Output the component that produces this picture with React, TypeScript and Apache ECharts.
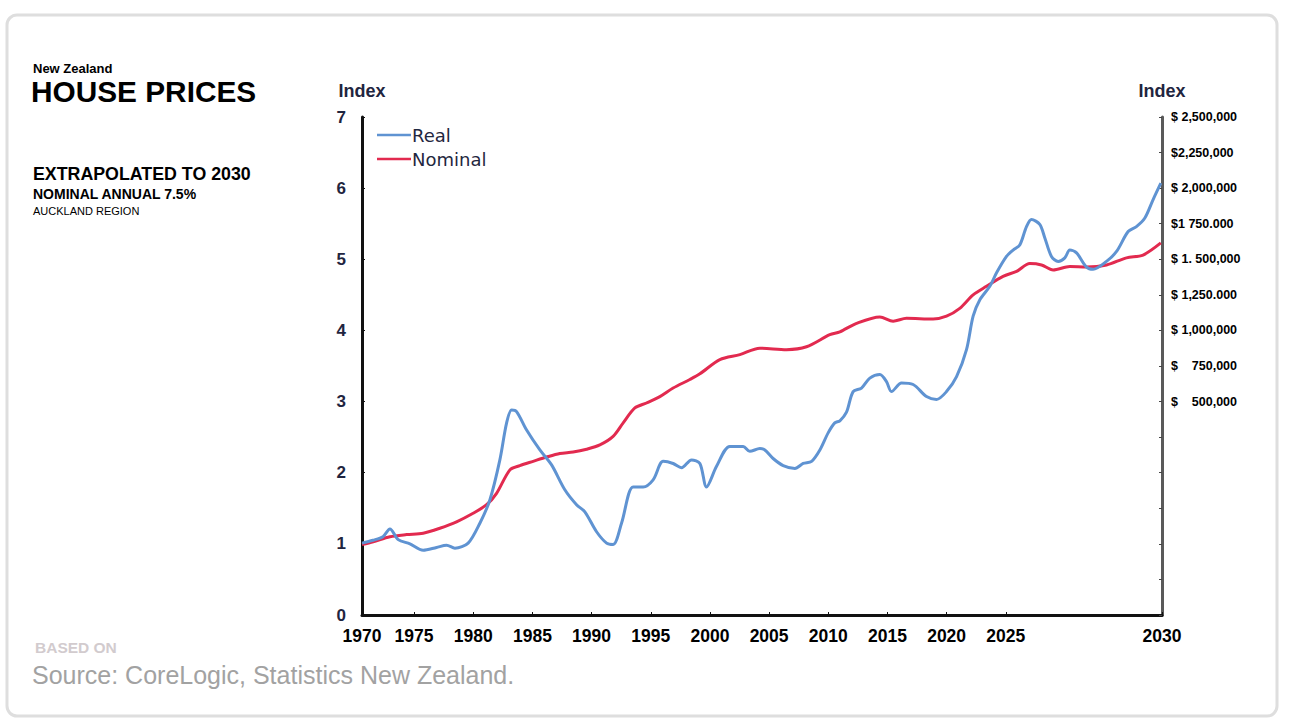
import React, { useEffect, useRef } from "react";
import * as echarts from "echarts";

// ---- data (x in the chart's label scale) ----
const realYears = [
  1970.6, 1971.52, 1972.37, 1972.96, 1973.66, 1974.65, 1975.77, 1976.9, 1977.75, 1978.45,
  1979.57, 1980.56, 1981.41, 1982.25, 1982.82, 1983.24, 1983.66, 1984.51, 1985.63, 1986.62,
  1987.74, 1988.73, 1989.43, 1990.42, 1991.27, 1991.82, 1992.53, 1993.51, 1994.36, 1995.2,
  1996.05, 1996.89, 1997.6, 1998.45, 1999.15, 1999.71, 2000.56, 2001.68, 2002.81, 2003.37,
  2004.22, 2004.64, 2005.34, 2006.19, 2007.18, 2007.88, 2008.59, 2009.29, 2009.99, 2010.55,
  2010.98, 2011.54, 2012.1, 2012.81, 2013.51, 2014.36, 2014.92, 2015.34, 2016.19, 2017.17,
  2018.3, 2019.15, 2019.99, 2020.84, 2021.68, 2022.24, 2022.81, 2023.65, 2024.22, 2025.06,
  2025.62, 2026.18, 2026.75, 2027.17, 2027.87, 2028.3, 2028.86, 2029.43, 2029.99, 2030.41,
  2030.98, 2031.82, 2032.38, 2033.51, 2034.36, 2035.34, 2036.04, 2036.75, 2037.45, 2038.1,
];
const realValues = [
  1.01, 1.05, 1.1, 1.21, 1.06, 1.0, 0.91, 0.95, 0.98, 0.94,
  1.01, 1.29, 1.62, 2.18, 2.7, 2.88, 2.86, 2.6, 2.32, 2.11,
  1.76, 1.55, 1.45, 1.17, 1.01, 0.99, 1.29, 1.8, 1.8, 1.9,
  2.16, 2.13, 2.07, 2.18, 2.13, 1.8, 2.09, 2.37, 2.37, 2.3,
  2.34, 2.32, 2.2, 2.1, 2.06, 2.13, 2.16, 2.32, 2.56, 2.7,
  2.73, 2.85, 3.14, 3.19, 3.33, 3.38, 3.28, 3.14, 3.26, 3.24,
  3.07, 3.03, 3.14, 3.35, 3.73, 4.2, 4.43, 4.62, 4.81, 5.04,
  5.13, 5.2, 5.46, 5.56, 5.49, 5.3, 5.04, 4.97, 5.02, 5.13,
  5.09, 4.89, 4.86, 4.97, 5.11, 5.39, 5.46, 5.58, 5.84, 6.07,
];
const nominalYears = [
  1970.6, 1971.55, 1972.96, 1974.37, 1975.77, 1977.18, 1978.59, 1979.99, 1981.13, 1981.97,
  1983.1, 1983.94, 1985.06, 1986.2, 1987.32, 1988.44, 1989.58, 1990.7, 1991.82, 1992.67,
  1993.66, 1994.64, 1995.77, 1996.89, 1998.3, 1999.15, 2000.84, 2002.53, 2004.22, 2006.47,
  2008.16, 2010.13, 2010.98, 2012.39, 2014.36, 2015.48, 2016.61, 2018.86, 2019.99, 2021.11,
  2022.24, 2023.37, 2024.77, 2025.91, 2027.03, 2028.02, 2029.0, 2030.41, 2031.82, 2033.51,
  2035.2, 2036.6, 2038.1,
];
const nominalValues = [
  0.99, 1.03, 1.1, 1.13, 1.15, 1.22, 1.31, 1.43, 1.55, 1.71,
  2.04, 2.1, 2.16, 2.22, 2.27, 2.29, 2.33, 2.39, 2.51, 2.7,
  2.91, 2.98, 3.07, 3.19, 3.31, 3.39, 3.59, 3.66, 3.75, 3.73,
  3.77, 3.94, 3.98, 4.1, 4.19, 4.13, 4.17, 4.16, 4.2, 4.31,
  4.5, 4.62, 4.76, 4.83, 4.94, 4.92, 4.85, 4.9, 4.89, 4.92,
  5.02, 5.06, 5.23,
];

const xMin = 1970.6;
const xMax = 2038.2;
const xTickPos = [1970.6, 1975, 1980, 1985, 1990, 1995, 2000, 2005, 2010, 2015, 2020, 2025, 2038.2];
const xTickLabels = ["1970", "1975", "1980", "1985", "1990", "1995", "2000", "2005", "2010", "2015", "2020", "2025", "2030"];

const leftTicks = [0, 1, 2, 3, 4, 5, 6, 7];

const rightTickValues = [500000, 750000, 1000000, 1250000, 1500000, 1750000, 2000000, 2250000, 2500000];
const rightTickLabels = [
  "$\u00a0\u00a0\u00a0\u00a0500,000",
  "$\u00a0\u00a0\u00a0\u00a0750,000",
  "$ 1,000,000",
  "$ 1,250.000",
  "$ 1. 500,000",
  "$1 750.000",
  "$ 2,000,000",
  "$2,250,000",
  "$ 2,500,000",
];

const FONT = "'Liberation Sans', Arial, sans-serif";
const WIDE = "'DejaVu Sans', 'Liberation Sans', sans-serif";

export default function App() {
  const ref = useRef<HTMLDivElement>(null);
  useEffect(() => {
    if (!ref.current) return;
    const chart = echarts.init(ref.current, null, { renderer: "svg" });
    const realData = realYears.map((y, i) => [y, realValues[i]]);
    const nomData = nominalYears.map((y, i) => [y, nominalValues[i]]);
    chart.setOption({
      animation: false,
      backgroundColor: "#ffffff",
      textStyle: { fontFamily: FONT },
      grid: { left: 362, right: 128, top: 117, bottom: 109, containLabel: false },
      legend: {
        orient: "vertical",
        left: 372,
        top: 121,
        itemGap: 6,
        itemWidth: 34,
        itemHeight: 2.5,
        icon: "rect",
        textStyle: { fontFamily: WIDE, fontSize: 18, color: "#1f2740", padding: [0, 0, 0, -4] },
        data: ["Real", "Nominal"],
      },
      xAxis: {
        type: "value",
        min: xMin,
        max: xMax,
        splitLine: { show: false },
        axisLine: { show: true, lineStyle: { color: "#111", width: 3 } },
        axisTick: { show: true, inside: true, length: 3, lineStyle: { color: "#111" }, customValues: xTickPos },
        axisLabel: {
          customValues: xTickPos,
          margin: 12,
          fontFamily: FONT,
          fontWeight: "bold",
          fontSize: 17.5,
          color: "#000",
          formatter: (v: number) => {
            const i = xTickPos.findIndex((p) => Math.abs(p - v) < 1e-6);
            return i >= 0 ? xTickLabels[i] : "";
          },
        },
      },
      yAxis: [
        {
          type: "value",
          min: 0,
          max: 7,
          interval: 1,
          position: "left",
          name: "Index",
          nameLocation: "end",
          nameGap: 17,
          nameTextStyle: { fontFamily: FONT, fontWeight: "bold", fontSize: 18, color: "#1f2540", align: "center" },
          splitLine: { show: false },
          axisLine: { show: true, lineStyle: { color: "#111", width: 3 } },
          axisTick: { show: true, inside: true, length: 3, lineStyle: { color: "#111" } },
          axisLabel: {
            margin: 16,
            fontFamily: FONT,
            fontWeight: "bold",
            fontSize: 17,
            color: "#1f2540",
            formatter: (v: number) => (leftTicks.includes(v) ? String(v) : ""),
          },
        },
        {
          type: "value",
          min: -1000000,
          max: 2500000,
          interval: 250000,
          position: "right",
          name: "Index",
          nameLocation: "end",
          nameGap: 17,
          nameTextStyle: { fontFamily: FONT, fontWeight: "bold", fontSize: 18, color: "#1f2540", align: "center" },
          splitLine: { show: false },
          axisLine: { show: true, lineStyle: { color: "#5a5a5a", width: 3 } },
          axisTick: { show: true, inside: true, length: 3, lineStyle: { color: "#444" } },
          axisLabel: {
            margin: 9,
            fontFamily: FONT,
            fontWeight: "bold",
            fontSize: 12.5,
            color: "#000",
            formatter: (v: number) => {
              const i = rightTickValues.indexOf(v);
              return i >= 0 ? rightTickLabels[i] : "";
            },
          },
        },
      ],
      series: [
        {
          name: "Real",
          type: "line",
          yAxisIndex: 0,
          data: realData,
          smooth: 0.3,
          symbol: "none",
          lineStyle: { color: "#5f93d2", width: 3 },
          itemStyle: { color: "#5f93d2" },
          z: 3,
        },
        {
          name: "Nominal",
          type: "line",
          yAxisIndex: 0,
          data: nomData,
          smooth: 0.3,
          symbol: "none",
          lineStyle: { color: "#e22a4f", width: 3 },
          itemStyle: { color: "#e22a4f" },
          z: 2,
        },
      ],
      graphic: [
        {
          type: "rect",
          z: -10,
          silent: true,
          shape: { x: 7, y: 15, width: 1270, height: 701, r: 10 },
          style: { fill: "#ffffff", stroke: "#dedede", lineWidth: 3 },
        },
        {
          type: "text",
          left: 33,
          top: 62,
          style: { text: "New Zealand", fontFamily: FONT, fontWeight: "bold", fontSize: 13, lineHeight: 13, fill: "#000" },
        },
        {
          type: "text",
          left: 31,
          top: 76,
          style: { text: "HOUSE PRICES", fontFamily: FONT, fontWeight: "bold", fontSize: 29.8, lineHeight: 24, fill: "#000" },
        },
        {
          type: "text",
          left: 33,
          top: 165,
          style: { text: "EXTRAPOLATED TO 2030", fontFamily: FONT, fontWeight: "bold", fontSize: 17.8, lineHeight: 18, fill: "#000" },
        },
        {
          type: "text",
          left: 33,
          top: 187,
          style: { text: "NOMINAL ANNUAL 7.5%", fontFamily: FONT, fontWeight: "bold", fontSize: 14, lineHeight: 14, fill: "#000" },
        },
        {
          type: "text",
          left: 33,
          top: 205,
          style: { text: "AUCKLAND REGION", fontFamily: FONT, fontSize: 11, lineHeight: 11, fill: "#000" },
        },
        {
          type: "text",
          left: 35,
          top: 639,
          style: { text: "BASED ON", fontFamily: FONT, fontWeight: "bold", fontSize: 15.5, lineHeight: 15, fill: "#d2cbce" },
        },
        {
          type: "text",
          left: 32,
          top: 662,
          style: { text: "Source: CoreLogic, Statistics New Zealand.", fontFamily: FONT, fontSize: 25, lineHeight: 25, fill: "#a2a2a2" },
        },
      ],
    });
    return () => chart.dispose();
  }, []);
  return (
    <div
      ref={ref}
      style={{ position: "fixed", left: 0, top: 0, width: 1290, height: 724 }}
    />
  );
}
